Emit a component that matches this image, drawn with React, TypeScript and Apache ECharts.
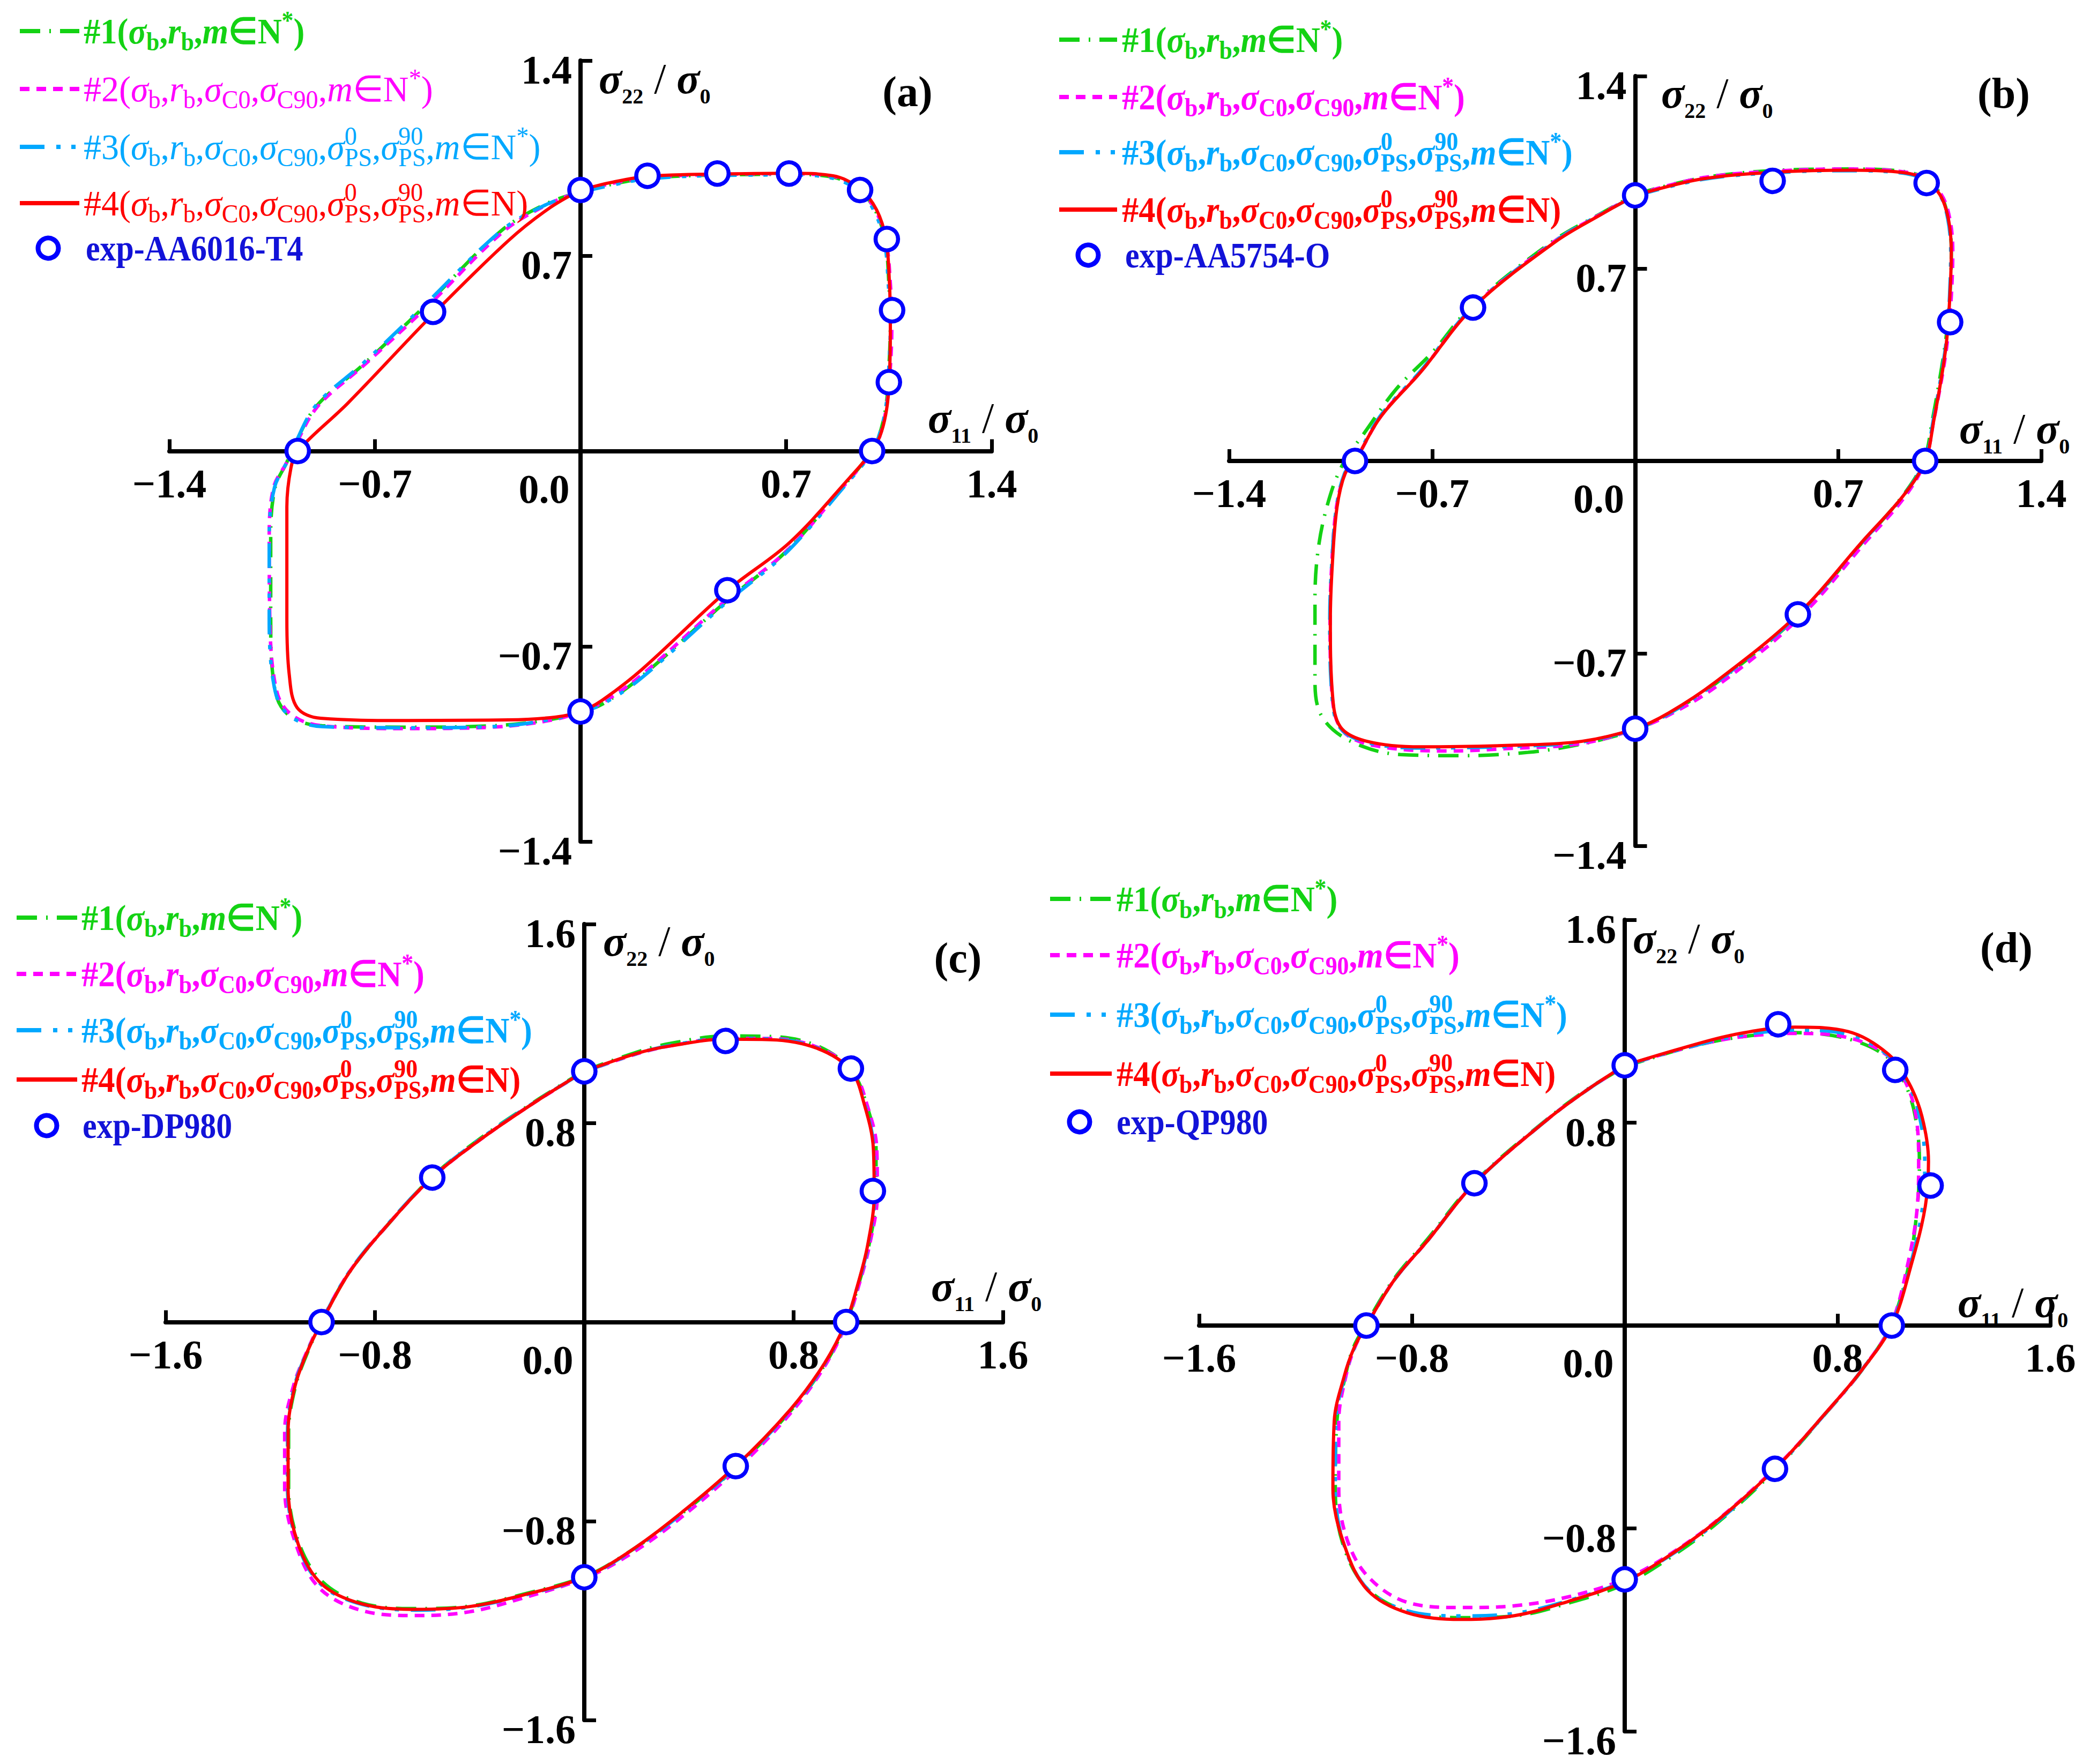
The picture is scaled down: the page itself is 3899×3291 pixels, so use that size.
import React, { useEffect, useRef } from 'react';
import * as echarts from 'echarts';

const W = 3899;
const H = 3291;
const FONT = '"Liberation Serif", "Times New Roman", serif';

// ---------------- data: panel (a) AA6016-T4 ----------------
const a_green = [[0,0.93],[0.1,0.955],[0.228,0.978],[0.466,0.99],[0.71,0.992],[0.86,0.982],[0.95,0.935],[1.005,0.86],[1.038,0.75],[1.05,0.6],[1.055,0.45],[1.05,0.3],[1.04,0.16],[1.015,0.05],[0.985,-0.01],[0.9,-0.12],[0.7,-0.36],[0.5,-0.535],[0.2,-0.815],[0.07,-0.91],[0,-0.935],[-0.1,-0.962],[-0.3,-0.985],[-0.6,-0.99],[-0.88,-0.985],[-0.99,-0.95],[-1.04,-0.86],[-1.055,-0.6],[-1.055,-0.3],[-1.04,-0.13],[-1.0,-0.04],[-0.975,0.02],[-0.9,0.16],[-0.74,0.31],[-0.52,0.53],[-0.27,0.79],[-0.12,0.885],[0,0.93]];
const a_magenta = [[0,0.932],[0.1,0.958],[0.228,0.98],[0.466,0.992],[0.71,0.994],[0.86,0.985],[0.95,0.937],[1.005,0.862],[1.04,0.755],[1.055,0.6],[1.06,0.45],[1.055,0.3],[1.042,0.16],[1.018,0.05],[0.988,-0.01],[0.905,-0.115],[0.705,-0.355],[0.5,-0.53],[0.2,-0.81],[0.07,-0.905],[0,-0.935],[-0.1,-0.965],[-0.3,-0.99],[-0.6,-0.995],[-0.88,-0.985],[-0.985,-0.945],[-1.035,-0.86],[-1.058,-0.6],[-1.06,-0.3],[-1.045,-0.13],[-1.0,-0.04],[-0.972,0.02],[-0.895,0.16],[-0.735,0.31],[-0.515,0.525],[-0.265,0.785],[-0.12,0.88],[0,0.932]];
const a_cyan = [[0,0.928],[0.1,0.952],[0.228,0.976],[0.466,0.988],[0.71,0.99],[0.86,0.978],[0.95,0.93],[1.0,0.86],[1.035,0.75],[1.048,0.6],[1.055,0.45],[1.05,0.3],[1.04,0.16],[1.015,0.05],[0.985,-0.015],[0.9,-0.125],[0.7,-0.365],[0.5,-0.54],[0.2,-0.82],[0.07,-0.91],[0,-0.935],[-0.1,-0.962],[-0.3,-0.988],[-0.6,-0.992],[-0.88,-0.988],[-0.99,-0.95],[-1.04,-0.86],[-1.06,-0.6],[-1.06,-0.3],[-1.042,-0.13],[-1.0,-0.04],[-0.975,0.02],[-0.9,0.165],[-0.74,0.315],[-0.52,0.535],[-0.27,0.79],[-0.12,0.882],[0,0.928]];
const a_red = [[0,0.936],[0.1,0.962],[0.228,0.985],[0.466,0.993],[0.71,0.996],[0.86,0.987],[0.952,0.94],[1.008,0.865],[1.04,0.76],[1.052,0.6],[1.055,0.45],[1.053,0.3],[1.045,0.17],[1.025,0.07],[0.993,0],[0.917,-0.095],[0.712,-0.328],[0.5,-0.5],[0.21,-0.782],[0.073,-0.894],[0,-0.934],[-0.087,-0.954],[-0.246,-0.964],[-0.61,-0.966],[-0.885,-0.958],[-0.965,-0.92],[-0.992,-0.8],[-1.0,-0.6],[-1.0,-0.2],[-0.986,-0.06],[-0.963,0],[-0.794,0.17],[-0.502,0.491],[-0.246,0.754],[-0.11,0.868],[0,0.936]];
const a_exp = [[0,0.936],[0.228,0.987],[0.466,0.995],[0.71,0.995],[0.952,0.936],[1.043,0.76],[1.061,0.505],[1.05,0.247],[0.993,0],[0.5,-0.499],[0,-0.934],[-0.963,0],[-0.502,0.499]];

// ---------------- data: panel (b) AA5754-O ----------------
const b_green = [[0,0.97],[0.231,1.03],[0.508,1.058],[0.739,1.062],[0.9,1.056],[0.99,1.034],[1.05,0.975],[1.08,0.88],[1.09,0.76],[1.085,0.6],[1.072,0.45],[1.055,0.33],[1.025,0.15],[0.995,0],[0.92,-0.13],[0.78,-0.3],[0.56,-0.565],[0.277,-0.81],[0.115,-0.92],[0,-0.978],[-0.185,-1.03],[-0.37,-1.06],[-0.6,-1.072],[-0.81,-1.068],[-0.98,-1.02],[-1.08,-0.93],[-1.104,-0.8],[-1.104,-0.5],[-1.09,-0.3],[-1.05,-0.12],[-1.002,0],[-0.935,0.1],[-0.825,0.26],[-0.695,0.4],[-0.565,0.562],[-0.28,0.802],[-0.115,0.902],[0,0.97]];
const b_magenta = [[0,0.968],[0.231,1.03],[0.508,1.056],[0.739,1.062],[0.9,1.055],[0.99,1.032],[1.055,0.97],[1.085,0.88],[1.095,0.76],[1.09,0.6],[1.078,0.45],[1.062,0.33],[1.03,0.15],[1.0,0],[0.93,-0.13],[0.79,-0.3],[0.565,-0.572],[0.28,-0.82],[0.115,-0.925],[0,-0.976],[-0.185,-1.028],[-0.416,-1.045],[-0.65,-1.055],[-0.9,-1.035],[-1.01,-0.98],[-1.045,-0.85],[-1.052,-0.578],[-1.046,-0.373],[-1.03,-0.168],[-1.0,-0.045],[-0.966,0],[-0.875,0.165],[-0.735,0.33],[-0.559,0.56],[-0.277,0.8],[-0.115,0.9],[0,0.968]];
const b_cyan = [[0,0.964],[0.231,1.024],[0.508,1.05],[0.739,1.056],[0.9,1.05],[0.99,1.028],[1.05,0.968],[1.078,0.88],[1.088,0.76],[1.084,0.6],[1.074,0.45],[1.058,0.33],[1.028,0.15],[0.998,0],[0.922,-0.13],[0.783,-0.295],[0.56,-0.562],[0.277,-0.808],[0.115,-0.92],[0,-0.975],[-0.185,-1.022],[-0.416,-1.038],[-0.74,-1.044],[-0.924,-1.024],[-1.018,-0.97],[-1.046,-0.845],[-1.053,-0.578],[-1.046,-0.373],[-1.03,-0.168],[-1.002,-0.045],[-0.968,0],[-0.88,0.162],[-0.741,0.326],[-0.56,0.56],[-0.278,0.798],[-0.115,0.9],[0,0.964]];
const b_red = [[0,0.966],[0.231,1.026],[0.508,1.052],[0.739,1.058],[0.9,1.052],[0.99,1.03],[1.05,0.97],[1.08,0.88],[1.09,0.76],[1.085,0.6],[1.075,0.45],[1.06,0.33],[1.03,0.15],[1.0,0],[0.924,-0.127],[0.785,-0.291],[0.561,-0.558],[0.277,-0.804],[0.115,-0.917],[0,-0.974],[-0.185,-1.02],[-0.416,-1.034],[-0.74,-1.04],[-0.924,-1.02],[-1.016,-0.968],[-1.044,-0.845],[-1.051,-0.578],[-1.044,-0.373],[-1.028,-0.168],[-1.0,-0.045],[-0.966,0],[-0.878,0.16],[-0.739,0.324],[-0.559,0.558],[-0.277,0.796],[-0.115,0.898],[0,0.966]];
const b_exp = [[0,0.966],[0.474,1.019],[1.005,1.011],[1.086,0.505],[1.0,0],[0.561,-0.558],[0,-0.974],[-0.966,0],[-0.559,0.558]];

// ---------------- data: panel (c) DP980 ----------------
const c_green = [[0,1.01],[0.2,1.085],[0.328,1.12],[0.54,1.15],[0.712,1.148],[0.891,1.11],[1.022,1.01],[1.08,0.87],[1.115,0.695],[1.115,0.513],[1.088,0.309],[1.048,0.15],[1.002,0],[0.92,-0.17],[0.79,-0.355],[0.58,-0.585],[0.33,-0.805],[0.148,-0.94],[0,-1.024],[-0.236,-1.095],[-0.44,-1.142],[-0.645,-1.152],[-0.85,-1.13],[-1.0,-1.045],[-1.09,-0.89],[-1.13,-0.667],[-1.13,-0.44],[-1.104,-0.259],[-1.058,-0.123],[-1.004,0],[-0.9,0.197],[-0.77,0.368],[-0.58,0.585],[-0.389,0.745],[-0.184,0.89],[0,1.01]];
const c_magenta = [[0,1.006],[0.2,1.078],[0.328,1.11],[0.54,1.14],[0.712,1.14],[0.891,1.105],[1.025,1.012],[1.08,0.876],[1.118,0.695],[1.12,0.513],[1.09,0.309],[1.05,0.15],[1.004,0],[0.922,-0.172],[0.795,-0.358],[0.585,-0.59],[0.335,-0.815],[0.15,-0.95],[0,-1.03],[-0.236,-1.11],[-0.44,-1.165],[-0.645,-1.18],[-0.85,-1.16],[-1.012,-1.07],[-1.1,-0.9],[-1.145,-0.667],[-1.145,-0.44],[-1.112,-0.259],[-1.062,-0.123],[-1.006,0],[-0.902,0.195],[-0.773,0.365],[-0.581,0.581],[-0.389,0.74],[-0.184,0.887],[0,1.006]];
const c_cyan = [[0,1.007],[0.2,1.079],[0.328,1.112],[0.54,1.14],[0.712,1.138],[0.891,1.102],[1.02,1.01],[1.072,0.876],[1.107,0.695],[1.11,0.513],[1.085,0.309],[1.046,0.15],[1.001,0],[0.918,-0.17],[0.79,-0.352],[0.58,-0.582],[0.33,-0.806],[0.148,-0.942],[0,-1.027],[-0.236,-1.1],[-0.44,-1.146],[-0.645,-1.158],[-0.85,-1.135],[-1.006,-1.055],[-1.095,-0.894],[-1.134,-0.667],[-1.134,-0.44],[-1.108,-0.259],[-1.061,-0.123],[-1.005,0],[-0.902,0.196],[-0.774,0.366],[-0.582,0.582],[-0.39,0.742],[-0.184,0.888],[0,1.007]];
const c_red = [[0,1.008],[0.2,1.08],[0.328,1.11],[0.54,1.137],[0.712,1.135],[0.891,1.1],[1.019,1.012],[1.07,0.876],[1.105,0.695],[1.108,0.513],[1.083,0.309],[1.045,0.15],[1.0,0],[0.917,-0.168],[0.789,-0.35],[0.579,-0.579],[0.328,-0.803],[0.148,-0.94],[0,-1.026],[-0.236,-1.098],[-0.44,-1.144],[-0.645,-1.155],[-0.85,-1.133],[-1.004,-1.053],[-1.093,-0.894],[-1.132,-0.667],[-1.132,-0.44],[-1.106,-0.259],[-1.06,-0.123],[-1.004,0],[-0.901,0.195],[-0.773,0.365],[-0.581,0.581],[-0.389,0.74],[-0.184,0.887],[0,1.008]];
const c_exp = [[0,1.008],[0.54,1.13],[1.019,1.019],[1.103,0.527],[1.001,0],[0.579,-0.579],[0,-1.026],[-1.004,0],[-0.581,0.581]];

// ---------------- data: panel (d) QP980 ----------------
const d_green = [[0,1.02],[0.213,1.09],[0.414,1.135],[0.64,1.155],[0.841,1.13],[0.991,1.055],[1.055,0.95],[1.092,0.826],[1.108,0.648],[1.1,0.47],[1.07,0.247],[1.0,0],[0.89,-0.178],[0.765,-0.335],[0.565,-0.57],[0.34,-0.785],[0.163,-0.92],[0,-1.02],[-0.213,-1.095],[-0.414,-1.145],[-0.615,-1.152],[-0.816,-1.128],[-0.97,-1.035],[-1.06,-0.86],[-1.088,-0.643],[-1.082,-0.376],[-1.05,-0.198],[-1.02,-0.087],[-0.975,0],[-0.868,0.183],[-0.742,0.34],[-0.565,0.565],[-0.289,0.816],[-0.14,0.932],[0,1.02]];
const d_magenta = [[0,1.024],[0.213,1.09],[0.414,1.135],[0.64,1.152],[0.841,1.135],[0.991,1.062],[1.06,0.95],[1.095,0.826],[1.105,0.648],[1.1,0.47],[1.065,0.247],[1.0,0],[0.895,-0.17],[0.775,-0.322],[0.575,-0.552],[0.345,-0.77],[0.165,-0.905],[0,-1.0],[-0.213,-1.07],[-0.414,-1.105],[-0.615,-1.112],[-0.816,-1.092],[-0.965,-0.99],[-1.045,-0.84],[-1.075,-0.643],[-1.075,-0.376],[-1.048,-0.198],[-1.015,-0.087],[-0.971,0],[-0.866,0.18],[-0.74,0.336],[-0.565,0.561],[-0.289,0.814],[-0.14,0.93],[0,1.024]];
const d_cyan = [[0,1.025],[0.213,1.09],[0.414,1.14],[0.64,1.165],[0.841,1.148],[0.991,1.065],[1.065,0.955],[1.108,0.826],[1.128,0.648],[1.12,0.47],[1.076,0.247],[1.002,0],[0.89,-0.177],[0.766,-0.333],[0.565,-0.567],[0.34,-0.78],[0.163,-0.912],[0,-1.008],[-0.213,-1.085],[-0.414,-1.135],[-0.615,-1.145],[-0.816,-1.125],[-0.966,-1.04],[-1.055,-0.866],[-1.088,-0.643],[-1.086,-0.376],[-1.052,-0.198],[-1.016,-0.087],[-0.971,0],[-0.866,0.18],[-0.74,0.336],[-0.565,0.561],[-0.289,0.814],[-0.14,0.93],[0,1.025]];
const d_red = [[0,1.026],[0.213,1.093],[0.414,1.148],[0.64,1.177],[0.841,1.159],[0.991,1.07],[1.067,0.959],[1.117,0.826],[1.142,0.648],[1.13,0.47],[1.079,0.247],[1.004,0],[0.891,-0.176],[0.766,-0.332],[0.565,-0.565],[0.339,-0.777],[0.163,-0.91],[0,-1.01],[-0.213,-1.088],[-0.414,-1.144],[-0.615,-1.159],[-0.816,-1.133],[-0.966,-1.044],[-1.054,-0.866],[-1.097,-0.643],[-1.092,-0.376],[-1.054,-0.198],[-1.017,-0.087],[-0.971,0],[-0.866,0.18],[-0.74,0.336],[-0.565,0.561],[-0.289,0.814],[-0.14,0.93],[0,1.026]];
const d_exp = [[0,1.026],[0.577,1.188],[1.017,1.008],[1.15,0.552],[1.004,0],[0.565,-0.565],[0,-1.001],[-0.971,0],[-0.565,0.561]];

// axis ranges / tick steps
const axisMax = [1.4, 1.4, 1.6, 1.6];
const axisStep = [0.7, 0.7, 0.8, 0.8];
const panelTags = ['(a)', '(b)', '(c)', '(d)'];
const expNames = ['exp-AA6016-T4', 'exp-AA5754-O', 'exp-DP980', 'exp-QP980'];
const curves = [
  [a_green, a_magenta, a_cyan, a_red],
  [b_green, b_magenta, b_cyan, b_red],
  [c_green, c_magenta, c_cyan, c_red],
  [d_green, d_magenta, d_cyan, d_red],
];
const exps = [a_exp, b_exp, c_exp, d_exp];

// ---------------- styles / layout ----------------
const COLORS = ['#14d214', '#ff00ff', '#00a8ff', '#ff0000'];
const DASHES: any[] = [[38, 17, 3, 17], [18, 13], [46, 22, 8, 20, 8, 20], 'solid'];
const EXP_COLOR = '#0000ff';
const EXP_TEXT = '#1212d8';

const LAYOUT = [
  { grid: { left: 316, top: 113, width: 1534, height: 1457 }, rows: [58, 166, 274, 379, 463], line: [37, 148], textX: 156, circleX: 90, expX: 160, yName: [1117, 147], xName: [1731, 780], tag: [1693, 171], weights: ['bold', 'normal', 'normal', 'normal'], sx: [0.92, 0.97, 0.97, 0.97] },
  { grid: { left: 2293, top: 142, width: 1515, height: 1436 }, rows: [74, 181, 284, 391, 476], line: [1976, 2084], textX: 2093, circleX: 2030, expX: 2099, yName: [3099, 174], xName: [3655, 800], tag: [3738, 174], weights: ['bold', 'bold', 'bold', 'bold'], sx: [0.92, 0.92, 0.92, 0.92] },
  { grid: { left: 309, top: 1724, width: 1562, height: 1485 }, rows: [1712, 1817, 1922, 2014, 2100], line: [31, 144], textX: 152, circleX: 87, expX: 154, yName: [1125, 1756], xName: [1737, 2400], tag: [1787, 1787], weights: ['bold', 'bold', 'bold', 'bold'], sx: [0.92, 0.92, 0.92, 0.92] },
  { grid: { left: 2237, top: 1716, width: 1588, height: 1514 }, rows: [1677, 1782, 1893, 2003, 2093], line: [1959, 2074], textX: 2083, circleX: 2014, expX: 2083, yName: [3046, 1751], xName: [3652, 2430], tag: [3743, 1768], weights: ['bold', 'bold', 'bold', 'bold'], sx: [0.92, 0.92, 0.92, 0.92] },
];
const LEGEND_SIZE = 68;
const EXP_SCALE_X = 0.88;

function rich(color: string, size: number, subRatio: number, weight: string) {
  const base = { fill: color, color, fontFamily: FONT, fontWeight: weight };
  const small = size * subRatio;
  return {
    t: { ...base, fontSize: size, lineHeight: size * 1.3 },
    n: { ...base, fontWeight: 'normal', fontSize: size, lineHeight: size * 1.3 },
    i: { ...base, fontSize: size, fontStyle: 'italic', lineHeight: size * 1.3 },
    sb: { ...base, fontSize: small, verticalAlign: 'bottom', lineHeight: size * 0.6 },
    sp: { ...base, fontSize: small, verticalAlign: 'top', lineHeight: size * 0.6 },
    spz: { ...base, fontSize: small, verticalAlign: 'top', lineHeight: size * 0.6, width: 0 },
  };
}

const sb = '{i|σ}{sb|b}{t|,}{i|r}{sb|b}{t|,}';
const sc = '{i|σ}{sb|C0}{t|,}{i|σ}{sb|C90}{t|,}';
const sps = '{i|σ}{spz|0}{sb|PS}{t|,}{i|σ}{spz|90}{sb|PS}{t|,}';
const LEGEND_TEXT = [
  '{t|#1(}' + sb + '{i|m}{t|∈N}{sp|*}{t|)}',
  '{t|#2(}' + sb + sc + '{i|m}{t|∈N}{sp|*}{t|)}',
  '{t|#3(}' + sb + sc + sps + '{i|m}{t|∈N}{sp|*}{t|)}',
  '{t|#4(}' + sb + sc + sps + '{i|m}{t|∈N)}',
];

const fmt = (v: number) => v.toFixed(1).replace('-', '\u2212');

function buildOption() {
  const grid: any[] = [];
  const xAxis: any[] = [];
  const yAxis: any[] = [];
  const series: any[] = [];
  const graphic: any[] = [];
  const labelBase = { fontFamily: FONT, fontWeight: 'bold', fontSize: 76, color: '#000' };

  LAYOUT.forEach((L, p) => {
    grid.push({ ...L.grid, containLabel: false });
    const m = axisMax[p];
    const common = {
      gridIndex: p, type: 'value', min: -m, max: m, interval: axisStep[p],
      splitLine: { show: false },
      axisLine: { onZero: false, lineStyle: { color: '#000', width: 8 } },
      axisTick: { inside: true, length: 22, lineStyle: { color: '#000', width: 7 } },
    };
    // symmetric ranges: the axes cross at the origin, i.e. at the grid centre
    xAxis.push({
      ...common,
      position: 'bottom',
      offset: -L.grid.height / 2,
      axisLabel: {
        ...labelBase, margin: 22, showMinLabel: true, showMaxLabel: true,
        formatter: (v: number) => (Math.abs(v) < 1e-9 ? '{z|0.0}' : fmt(v)),
        rich: { z: { ...labelBase, padding: [10, 136, 0, 0] } },
      },
    });
    yAxis.push({
      ...common,
      position: 'left',
      offset: -L.grid.width / 2,
      axisLabel: {
        ...labelBase, margin: 16, showMinLabel: true, showMaxLabel: true,
        verticalAlign: 'top', lineHeight: 34,
        formatter: (v: number) => (Math.abs(v) < 1e-9 ? '' : fmt(v)),
      },
    });

    curves[p].forEach((data, k) => {
      series.push({
        type: 'line', xAxisIndex: p, yAxisIndex: p, data, smooth: 0.35,
        symbol: 'none', showSymbol: false, clip: false, z: 2 + k,
        lineStyle: { color: COLORS[k], width: k === 3 ? 6 : 6.5, type: DASHES[k], cap: 'butt' },
      });
    });
    series.push({
      type: 'scatter', xAxisIndex: p, yAxisIndex: p, data: exps[p], symbol: 'circle',
      symbolSize: 42, z: 10,
      itemStyle: { color: '#ffffff', borderColor: EXP_COLOR, borderWidth: 7.5, opacity: 1 },
    });

    // legend rows
    for (let k = 0; k < 4; k++) {
      const y = L.rows[k];
      graphic.push({
        type: 'line', z: 20,
        shape: { x1: L.line[0], y1: y, x2: L.line[1], y2: y },
        style: { stroke: COLORS[k], lineWidth: 8, lineDash: DASHES[k] === 'solid' ? null : DASHES[k] },
      });
      graphic.push({
        type: 'text', z: 20, x: L.textX, y, scaleX: L.sx[k],
        style: { text: LEGEND_TEXT[k], rich: rich(COLORS[k], LEGEND_SIZE, 0.7, L.weights[k]), fill: COLORS[k], align: 'left', verticalAlign: 'middle', fontFamily: FONT, fontSize: LEGEND_SIZE },
      });
    }
    graphic.push({
      type: 'circle', z: 20, shape: { cx: L.circleX, cy: L.rows[4], r: 19 },
      style: { fill: '#fff', stroke: EXP_COLOR, lineWidth: 9 },
    });
    graphic.push({
      type: 'text', z: 20, x: L.expX, y: L.rows[4], scaleX: EXP_SCALE_X,
      style: { text: expNames[p], fill: EXP_TEXT, fontFamily: FONT, fontWeight: 'bold', fontSize: LEGEND_SIZE, align: 'left', verticalAlign: 'middle' },
    });

    // axis names & panel tag
    const nameRich = rich('#000', 80, 0.5, 'bold');
    graphic.push({
      type: 'text', z: 20, x: L.yName[0], y: L.yName[1],
      style: { text: '{i|σ}{sb|22}{n| / }{i|σ}{sb|0}', rich: nameRich, fill: '#000', align: 'left', verticalAlign: 'middle', fontFamily: FONT, fontSize: 80 },
    });
    graphic.push({
      type: 'text', z: 20, x: L.xName[0], y: L.xName[1],
      style: { text: '{i|σ}{sb|11}{n| / }{i|σ}{sb|0}', rich: nameRich, fill: '#000', align: 'left', verticalAlign: 'middle', fontFamily: FONT, fontSize: 80 },
    });
    graphic.push({
      type: 'text', z: 20, x: L.tag[0], y: L.tag[1],
      style: { text: panelTags[p], fill: '#000', fontFamily: FONT, fontWeight: 'bold', fontSize: 80, align: 'center', verticalAlign: 'middle' },
    });
  });

  return { animation: false, backgroundColor: '#ffffff', grid, xAxis, yAxis, series, graphic };
}

export default function App() {
  const ref = useRef<HTMLDivElement>(null);
  useEffect(() => {
    if (!ref.current) return;
    const chart = echarts.init(ref.current, null, { renderer: 'svg', width: W, height: H });
    chart.setOption(buildOption() as any);
    return () => chart.dispose();
  }, []);
  return <div ref={ref} style={{ position: 'absolute', left: 0, top: 0, width: W, height: H, background: '#fff' }} />;
}
